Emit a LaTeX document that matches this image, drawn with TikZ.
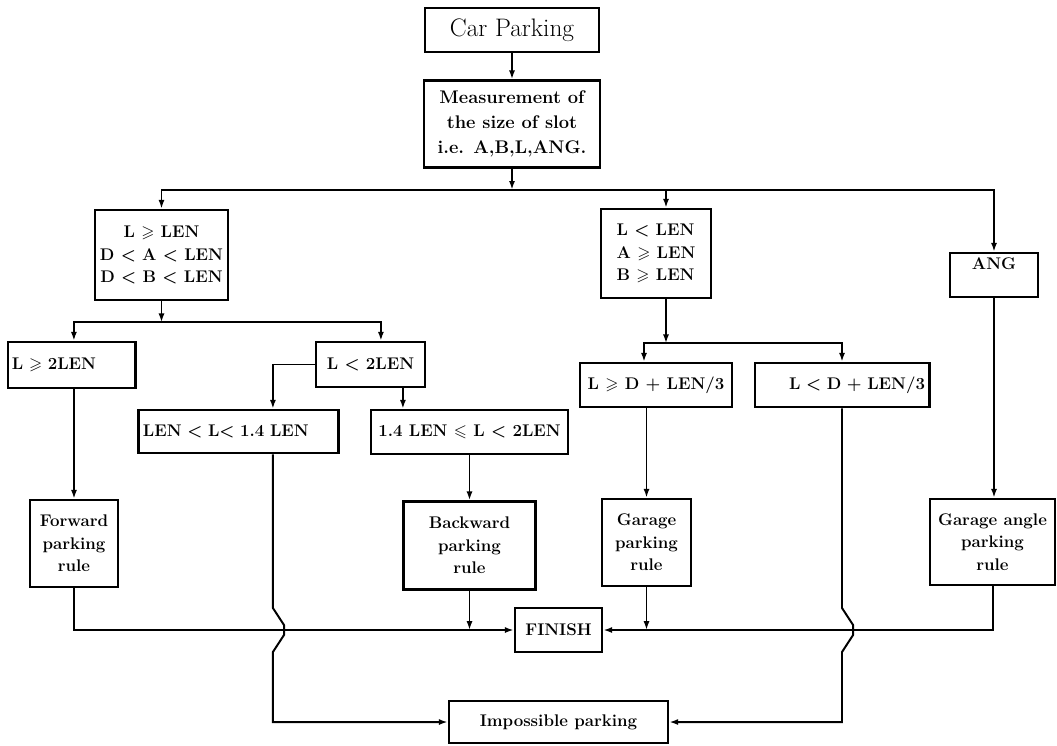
\documentclass[tikz,border=0pt]{standalone}
\usepackage{amsmath,amssymb}
\usepackage{tikz}
\usetikzlibrary{positioning,arrows.meta}

\begin{document}
\begin{tikzpicture}[
    x=0.025cm, y=-0.025cm,
    box/.style={draw, line width=1.8pt, inner sep=3pt, align=center, font=\fontsize{12}{16}\selectfont\bfseries\boldmath},
    arr/.style={-{Latex[length=2.2mm,width=1.5mm]}, line width=1.4pt},
]
\useasboundingbox (0,0) rectangle (1057,745);

% Start + measurement
\node[box, minimum width=4.35cm, minimum height=1.1cm, font=\fontsize{18}{20}\selectfont] (car) at (512,30) {Car Parking};
\node[box, minimum width=4.4cm, minimum height=2.175cm, font=\fontsize{13}{18}\selectfont\bfseries, below=0.65cm of car] (meas) {Measurement of\\the size of slot\\i.e. A,B,L,ANG.};

% Three cases
\node[box, minimum width=3.325cm, minimum height=2.25cm] (lenok) at (161.5,255) {L $\geqslant$ LEN\\D $<$ A $<$ LEN\\D $<$ B $<$ LEN};
\node[box, minimum width=2.75cm, minimum height=2.225cm, align=left] (lenshort) at (656,253.5) {L $<$ LEN\\A $\geqslant$ LEN\\B $\geqslant$ LEN};
\node[box, minimum width=2.2cm, minimum height=1.1cm, text depth=0.55cm] (ang) at (994,275) {ANG};

% Sub cases
\node[box, text width=2.975cm, minimum height=1.15cm, align=left] (long) at (71.5,365) {L $\geqslant$ 2LEN};
\node[box, minimum width=2.725cm, minimum height=1.125cm] (notlong) at (370.5,364.5) {L $<$ 2LEN};
\node[box, minimum width=3.8cm, minimum height=1.1cm] (deep) at (656,385) {L $\geqslant$ D + LEN/3};
\node[box, text width=4.15cm, minimum height=1.1cm, align=right] (shallow) at (842,385) {L $<$ D + LEN/3};
\node[box, text width=4.775cm, minimum height=1.075cm, align=left] (mid) at (238.5,431.5) {LEN $<$ L$<$ 1.4 LEN};
\node[box, minimum width=4.925cm, minimum height=1.1cm, inner xsep=1pt] (high) at (469.5,432) {1.4 LEN $\leqslant$ L $<$ 2LEN};

% Parking rules
\node[box, minimum width=2.2cm, minimum height=2.175cm] (fwd) at (74,543.5) {Forward\\parking\\rule};
\node[box, minimum width=3.3cm, minimum height=2.2cm, below=1.125cm of high] (bwd) {Backward\\parking\\rule};
\node[box, minimum width=2.225cm, minimum height=2.175cm] (gar) at (646.5,542.5) {Garage\\parking\\rule};
\node[box, minimum width=3.125cm, minimum height=2.15cm, inner xsep=1pt] (angrule) at (992.5,542) {Garage angle\\parking\\rule};

% Ends
\node[box, minimum width=2.175cm, minimum height=1.1cm] (finish) at (558.5,630) {FINISH};
\node[box, minimum width=5.475cm, minimum height=1.05cm] (imposs) at (558.5,722) {Impossible parking};

% Branch points
\coordinate (top) at ([yshift=-0.525cm]meas.south);
\coordinate (split1) at ([yshift=-0.525cm]lenok.south);
\coordinate (split2) at ([xshift=0.25cm,yshift=-1.1cm]lenshort.south);
\coordinate (hop1) at ([xshift=0.86cm]mid.south |- finish.west);
\coordinate (hop2) at (shallow.south |- finish.east);

% Top part
\draw[arr] (car) -- (meas);
\draw[arr] (meas) -- (top);
\draw[arr] (top) -| (lenok);
\draw[arr] (top) -| ([xshift=0.25cm]lenshort.north);
\draw[arr] (top) -| (ang);

% Left branch
\draw[arr] (lenok) -- (split1);
\draw[arr] (split1) -| ([xshift=0.06cm]long.north);
\draw[arr] (split1) -| ([xshift=0.26cm]notlong.north);
\draw[arr] (notlong.west) -| ([xshift=0.86cm]mid.north);
\draw[arr] ([xshift=0.81cm]notlong.south) -- ([xshift=0.81cm]notlong.south |- high.north);
\draw[arr] (fwd |- long.south) -- (fwd);
\draw[arr] (high) -- (bwd);

% Middle and right branch
\draw[arr] ([xshift=0.25cm]lenshort.south) -- (split2);
\draw[arr] (split2) -| ([xshift=-0.3cm]deep.north);
\draw[arr] (split2) -| (shallow);
\draw[arr] (gar |- deep.south) -- (gar);
\draw[arr] (ang) -- (ang |- angrule.north);

% Into FINISH
\draw[arr] (fwd) |- (finish);
\draw[arr] (angrule) |- (finish);
\draw[arr] (bwd) -- (bwd |- finish.west);
\draw[arr] (gar) -- (gar |- finish.east);

% Into impossible parking, hopping over the FINISH line
\draw[arr] ([xshift=0.86cm]mid.south) -- ([yshift=0.55cm]hop1) -- ([xshift=0.28cm,yshift=0.12cm]hop1) -- ([xshift=0.28cm,yshift=-0.12cm]hop1) -- ([yshift=-0.55cm]hop1) |- (imposs);
\draw[arr] (shallow) -- ([yshift=0.55cm]hop2) -- ([xshift=0.28cm,yshift=0.12cm]hop2) -- ([xshift=0.28cm,yshift=-0.12cm]hop2) -- ([yshift=-0.55cm]hop2) |- (imposs);

\end{tikzpicture}
\end{document}
